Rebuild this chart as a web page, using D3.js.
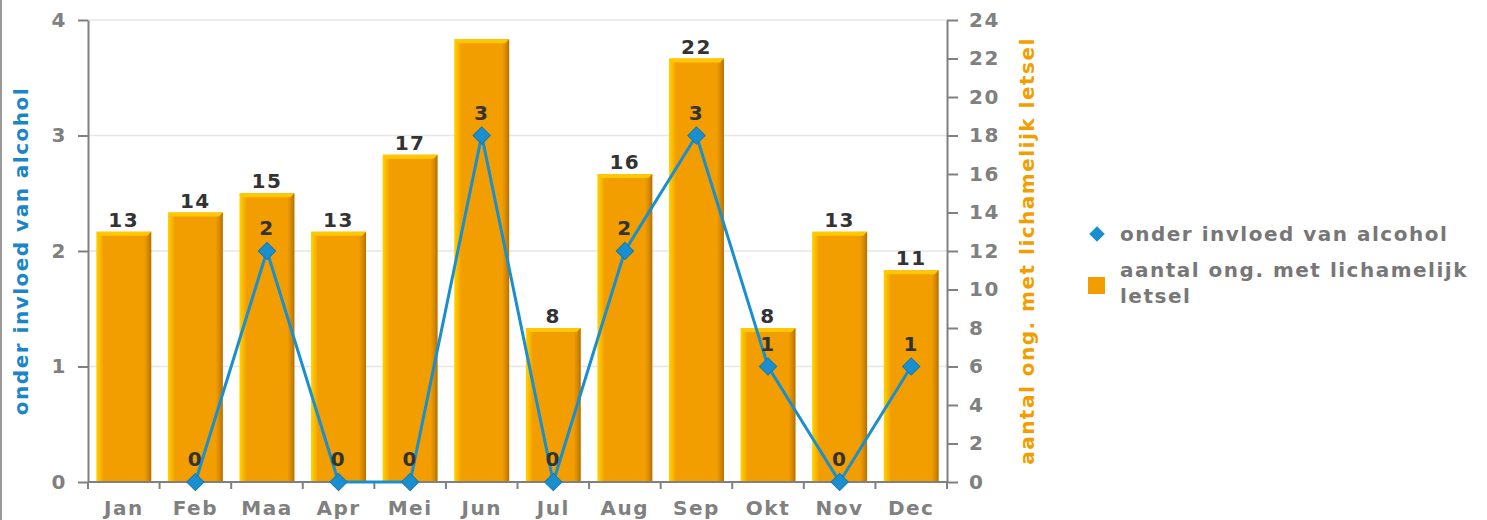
<!DOCTYPE html>
<html>
<head>
<meta charset="utf-8">
<script src="https://cdn.jsdelivr.net/npm/d3@7"></script>
<style>
  body { margin: 0; background: #fff; }
  svg { display: block; font-family: "DejaVu Sans", sans-serif; font-weight: bold; letter-spacing: 1.5px; }
</style>
</head>
<body>
<svg id="chart" width="1487" height="520"></svg>
<script>
const months = ['Jan', 'Feb', 'Maa', 'Apr', 'Mei', 'Jun', 'Jul', 'Aug', 'Sep', 'Okt', 'Nov', 'Dec'];
const letsel = [13, 14, 15, 13, 17, 23, 8, 16, 22, 8, 13, 11];
const alcohol = [null, 0, 2, 0, 0, 3, 0, 2, 3, 1, 0, 1];
const hiddenBarLabels = ['Jun'];
const leftTicks = [0, 1, 2, 3, 4];
const rightTicks = [0, 2, 4, 6, 8, 10, 12, 14, 16, 18, 20, 22, 24];

const blue = '#1a8fd0';
const orange = '#f29e00';
const gray = '#808080';
const fs = 20;

const svg = d3.select('#chart');
const margin = { left: 88, right: 947, top: 20, bottom: 482 };

const x = d3.scaleBand().domain(months).range([margin.left, margin.right]);
const yL = d3.scaleLinear().domain([0, 4]).range([margin.bottom, margin.top]);
const yR = d3.scaleLinear().domain([0, 24]).range([margin.bottom, margin.top]);

// frame line on the left
svg.append('line').attr('x1', 1).attr('x2', 1).attr('y1', 0).attr('y2', 520)
  .attr('stroke', '#999').attr('stroke-width', 2);

const defs = svg.append('defs');
const grad = defs.append('linearGradient').attr('id', 'barGrad');
grad.append('stop').attr('offset', '0%').attr('stop-color', '#ffd400');
grad.append('stop').attr('offset', '7%').attr('stop-color', '#f9b800');
grad.append('stop').attr('offset', '13%').attr('stop-color', orange);
grad.append('stop').attr('offset', '87%').attr('stop-color', orange);
grad.append('stop').attr('offset', '94%').attr('stop-color', '#d68800');
grad.append('stop').attr('offset', '100%').attr('stop-color', '#b47000');

// grid
svg.append('g').selectAll('line').data(leftTicks).join('line')
  .attr('x1', margin.left).attr('x2', margin.right)
  .attr('y1', d => yL(d)).attr('y2', d => yL(d))
  .attr('stroke', '#e6e6e6').attr('stroke-width', 1.5);

// bars
const barW = 55;
const bx = d => x(d) + x.bandwidth() / 2 - barW / 2;
const bars = svg.append('g').selectAll('g').data(months).join('g');
bars.append('rect')
  .attr('x', bx)
  .attr('y', (d, i) => yR(letsel[i]))
  .attr('width', barW)
  .attr('height', (d, i) => yR(0) - yR(letsel[i]))
  .attr('fill', 'url(#barGrad)');
bars.append('path')
  .attr('d', (d, i) => {
    const x0 = bx(d), y0 = yR(letsel[i]);
    return `M${x0},${y0}H${x0 + barW}L${x0 + barW - 4},${y0 + 4}H${x0 + 4}Z`;
  })
  .attr('fill', '#ffc800');
bars.filter(d => !hiddenBarLabels.includes(d)).append('text')
  .attr('x', d => x(d) + x.bandwidth() / 2)
  .attr('y', d => yR(letsel[months.indexOf(d)]) - 5)
  .attr('text-anchor', 'middle')
  .attr('font-size', fs)
  .attr('fill', '#333')
  .text(d => letsel[months.indexOf(d)]);

// axes
const axisStyle = g => {
  g.selectAll('path, line').attr('stroke', gray).attr('stroke-width', 2);
  g.selectAll('text').attr('fill', gray).attr('font-size', fs)
    .attr('font-family', '"DejaVu Sans", sans-serif').attr('font-weight', 'bold');
};

svg.append('g').attr('transform', `translate(${margin.left},0)`)
  .call(d3.axisLeft(yL).tickValues(leftTicks).tickFormat(d3.format('d'))
    .tickSize(10).tickSizeOuter(0).tickPadding(11))
  .call(axisStyle);

svg.append('g').attr('transform', `translate(${margin.right},0)`)
  .call(d3.axisRight(yR).tickValues(rightTicks).tickSize(11).tickSizeOuter(0).tickPadding(11))
  .call(axisStyle);

const xAxis = svg.append('g').attr('transform', `translate(0,${margin.bottom})`);
xAxis.append('line').attr('x1', margin.left).attr('x2', margin.right)
  .attr('stroke', gray).attr('stroke-width', 2);
xAxis.selectAll('line.tk').data(d3.range(months.length + 1)).join('line')
  .attr('class', 'tk')
  .attr('x1', i => margin.left + i * x.step()).attr('x2', i => margin.left + i * x.step())
  .attr('y1', 0).attr('y2', 7)
  .attr('stroke', gray).attr('stroke-width', 2);
xAxis.selectAll('text').data(months).join('text')
  .attr('x', d => x(d) + x.bandwidth() / 2)
  .attr('y', 33)
  .attr('text-anchor', 'middle')
  .attr('font-size', fs)
  .attr('fill', gray)
  .text(d => d);

// line series
const pts = months.map((m, i) => ({ m, v: alcohol[i] })).filter(d => d.v !== null);
const line = d3.line().x(d => x(d.m) + x.bandwidth() / 2).y(d => yL(d.v));
svg.append('path').datum(pts).attr('d', line)
  .attr('fill', 'none').attr('stroke', blue).attr('stroke-width', 3);

const diamond = d3.symbol().type(d3.symbolSquare).size(150);
svg.append('g').selectAll('path').data(pts).join('path')
  .attr('d', diamond)
  .attr('transform', d => `translate(${x(d.m) + x.bandwidth() / 2},${yL(d.v)}) rotate(45)`)
  .attr('fill', blue).attr('stroke', '#1479b5').attr('stroke-width', 1);

svg.append('g').selectAll('text').data(pts).join('text')
  .attr('x', d => x(d.m) + x.bandwidth() / 2)
  .attr('y', d => yL(d.v) - 16)
  .attr('text-anchor', 'middle')
  .attr('font-size', fs)
  .attr('fill', '#333')
  .text(d => d.v);

// axis titles
svg.append('text')
  .attr('transform', `translate(28,${(margin.top + margin.bottom) / 2}) rotate(-90)`)
  .attr('text-anchor', 'middle')
  .attr('font-size', fs)
  .attr('fill', '#1a86c8')
  .text('onder invloed van alcohol');

svg.append('text')
  .attr('transform', `translate(1034,${(margin.top + margin.bottom) / 2}) rotate(-90)`)
  .attr('text-anchor', 'middle')
  .attr('font-size', fs)
  .attr('fill', orange)
  .text('aantal ong. met lichamelijk letsel');

// legend
const legend = svg.append('g').attr('transform', 'translate(1097,0)');
legend.append('path')
  .attr('d', d3.symbol().type(d3.symbolSquare).size(120))
  .attr('transform', 'translate(0,234) rotate(45)')
  .attr('fill', blue);
legend.append('text').attr('x', 23).attr('y', 241)
  .attr('font-size', fs).attr('fill', '#777')
  .text('onder invloed van alcohol');
legend.append('rect').attr('x', -9).attr('y', 277).attr('width', 17).attr('height', 17)
  .attr('fill', orange);
legend.append('text').attr('x', 23).attr('y', 277)
  .attr('font-size', fs).attr('fill', '#777')
  .text('aantal ong. met lichamelijk');
legend.append('text').attr('x', 23).attr('y', 303)
  .attr('font-size', fs).attr('fill', '#777')
  .text('letsel');
</script>
</body>
</html>
